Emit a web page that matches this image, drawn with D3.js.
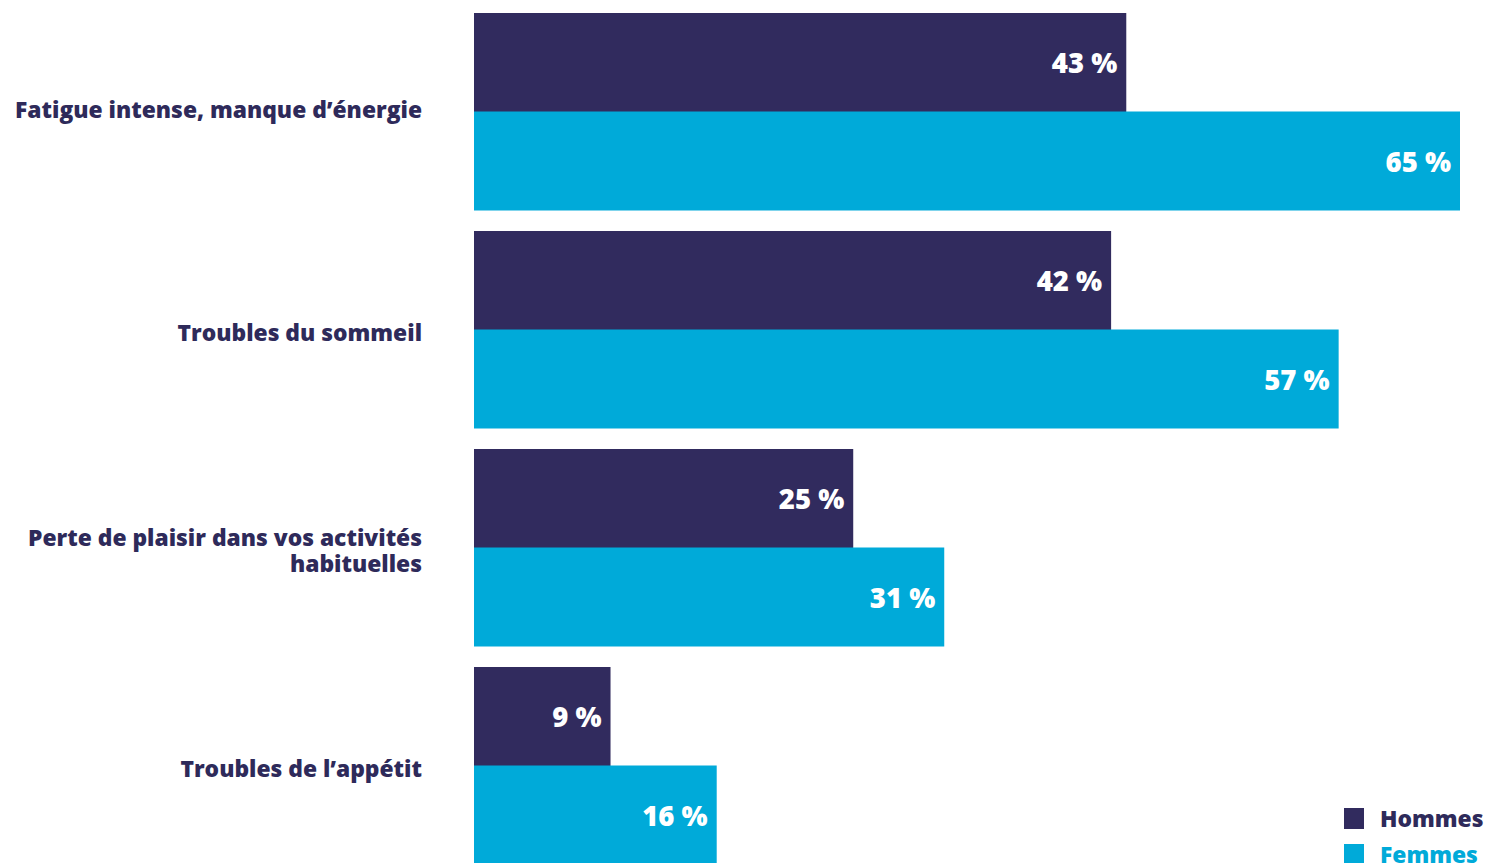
<!DOCTYPE html>
<html lang="fr">
<head>
<meta charset="utf-8">
<script src="https://cdn.jsdelivr.net/npm/d3@7"></script>
<style>
  html, body { margin: 0; padding: 0; background: #fff; }
  svg { display: block; }
  text { font-family: "Open Sans", Lato, sans-serif; }
</style>
</head>
<body>
<svg id="chart" width="1486" height="863"></svg>
<script>
// Symptoms reported, share by sex (%)
const categories = [
  ["Fatigue intense, manque d’énergie"],
  ["Troubles du sommeil"],
  ["Perte de plaisir dans vos activités", "habituelles"],
  ["Troubles de l’appétit"]
];
const series = ["Hommes", "Femmes"];
const hommes = [43, 42, 25, 9];
const femmes = [65, 57, 31, 16];
const colors = ["#312b5e", "#00aad9"];

const svg = d3.select("#chart");

const x = d3.scaleLinear().domain([0, 65]).range([474, 1460]);
const y0 = d3.scaleBand()
  .domain(d3.range(categories.length))
  .range([13, 864])
  .paddingInner(21 / 218)
  .paddingOuter(0);
const y1 = d3.scaleBand().domain(series).range([0, y0.bandwidth()]);

const rows = categories.map((c, i) => ({ lines: c, values: [hommes[i], femmes[i]] }));

const groups = svg.selectAll("g.group")
  .data(rows)
  .join("g")
  .attr("class", "group")
  .attr("transform", (d, i) => `translate(0,${y0(i)})`);

groups.selectAll("rect")
  .data(d => d.values.map((v, j) => ({ v, s: series[j], j })))
  .join("rect")
  .attr("x", x(0))
  .attr("y", d => y1(d.s))
  .attr("width", d => x(d.v) - x(0))
  .attr("height", y1.bandwidth() + 0.5)
  .attr("fill", d => colors[d.j]);

groups.selectAll("text.val")
  .data(d => d.values.map((v, j) => ({ v, s: series[j], j })))
  .join("text")
  .attr("class", "val")
  .attr("x", d => x(d.v) - 9)
  .attr("y", d => y1(d.s) + y1.bandwidth() / 2 + 1)
  .attr("dy", "0.36em")
  .attr("text-anchor", "end")
  .attr("fill", "#fff")
  .attr("font-size", 27.5)
  .attr("font-weight", 800)
  .text(d => `${d.v} %`);

// Category labels, right-aligned against the bars
groups.append("text")
  .attr("class", "cat")
  .attr("text-anchor", "end")
  .attr("fill", "#2e2a5a")
  .attr("font-size", 22.8)
  .attr("font-weight", 800)
  .each(function(d, i) {
    const t = d3.select(this);
    const n = d.lines.length;
    const lh = 26;
    const nudge = i === 0 ? -1.5 : 3.5;
    d.lines.forEach((line, k) => {
      t.append("tspan")
        .attr("x", 422)
        .attr("y", y0.bandwidth() / 2 + nudge + (k - (n - 1) / 2) * lh)
        .attr("dy", "0.36em")
        .text(line);
    });
  });

// Legend
const legend = svg.append("g").attr("transform", "translate(1344,808)");
series.forEach((s, j) => {
  const g = legend.append("g").attr("transform", `translate(0,${j * 36})`);
  g.append("rect").attr("width", 20).attr("height", 21).attr("fill", colors[j]);
  g.append("text")
    .attr("x", 36)
    .attr("y", 10.5)
    .attr("dy", "0.36em")
    .attr("fill", j === 0 ? "#2e2a5a" : colors[1])
    .attr("font-size", 22.8)
    .attr("font-weight", 800)
    .text(s);
});
</script>
</body>
</html>
